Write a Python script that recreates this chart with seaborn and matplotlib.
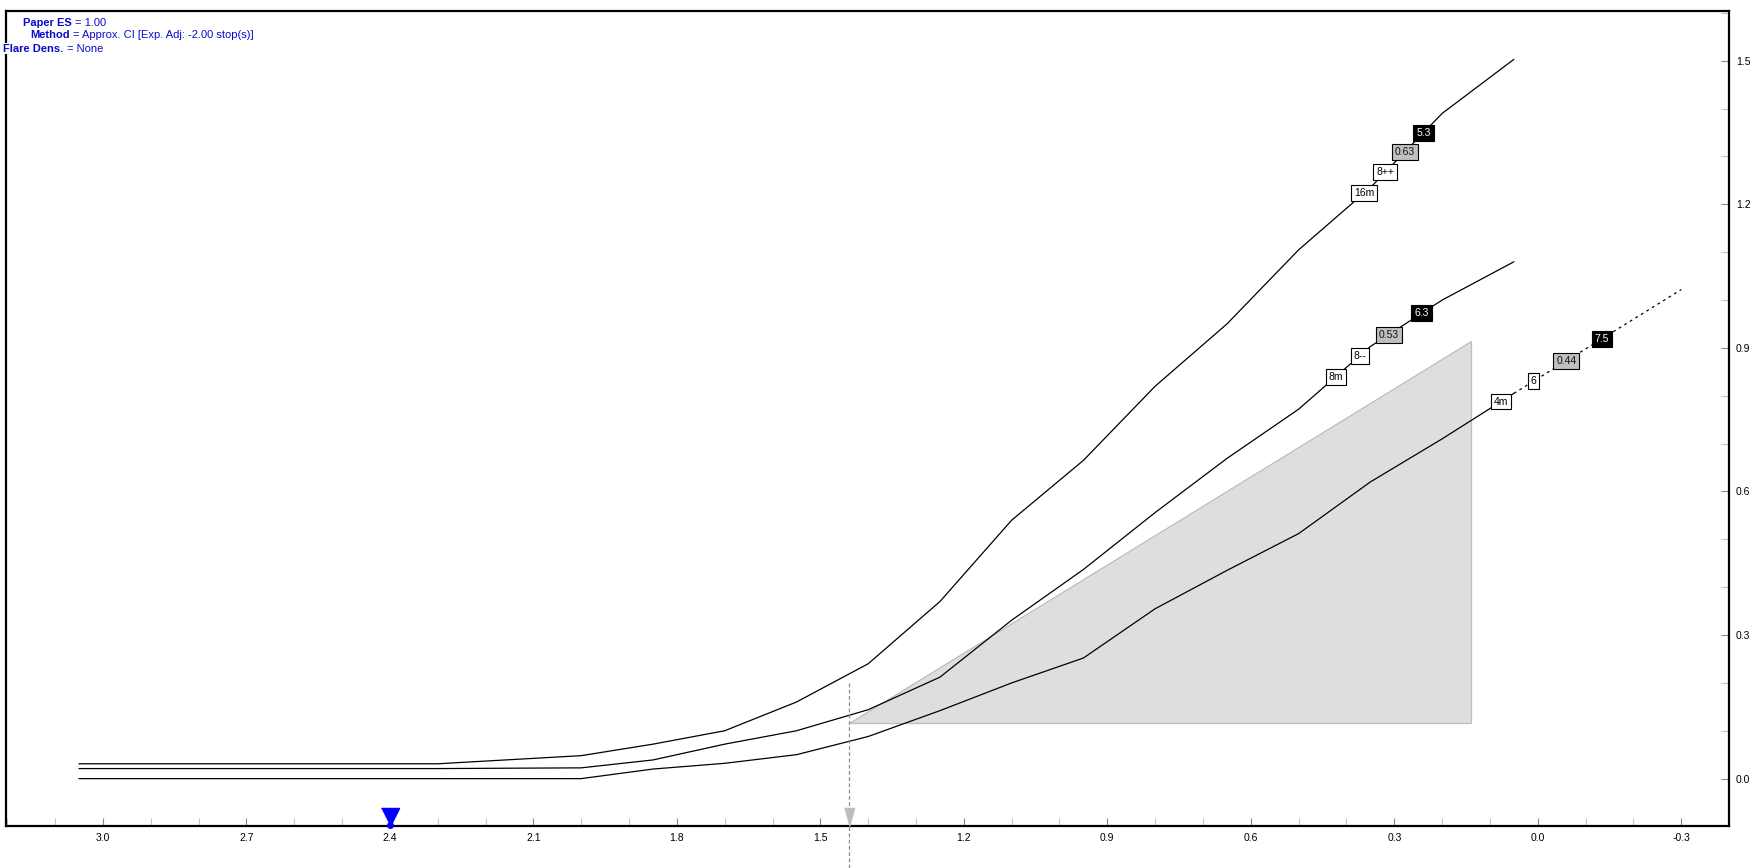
import numpy as np
import pandas as pd
import matplotlib
matplotlib.use("Agg")
import matplotlib.pyplot as plt
import seaborn as sns
from matplotlib.ticker import MultipleLocator, FormatStrFormatter

# ---------------- data ----------------
x_pts = [3.05, 2.3, 2.0, 1.85, 1.7, 1.55, 1.4, 1.25, 1.1, 0.95, 0.8, 0.65, 0.5, 0.35, 0.2, 0.05]
upper_y = [0.031, 0.031, 0.048, 0.072, 0.10, 0.16, 0.24, 0.37, 0.54, 0.665, 0.82, 0.95, 1.105, 1.235, 1.39, 1.503]
middle_y = [0.021, 0.021, 0.0225, 0.039, 0.072, 0.10, 0.144, 0.212, 0.331, 0.437, 0.556, 0.669, 0.772, 0.903, 1.0, 1.08]
lower_y = [0.0, 0.0, 0.0, 0.02, 0.032, 0.05, 0.088, 0.142, 0.20, 0.252, 0.355, 0.435, 0.512, 0.62, 0.71, 0.805]
lower_ext_x = [0.05, -0.3]
lower_ext_y = [0.805, 1.022]

upper_labels = ["16m", "8++", "0.63", "5.3"]
upper_label_x = [0.363, 0.319, 0.278, 0.239]
middle_labels = ["8m", "8--", "0.53", "6.3"]
middle_label_x = [0.4225, 0.372, 0.312, 0.243]
lower_labels = ["4m", "6", "0.44", "7.5"]
lower_label_x = [0.077, 0.0086, -0.0596, -0.1336]
label_styles = ["white", "white", "gray", "black"]

shade_x = [1.44, 0.14, 0.14]
shade_y = [0.116, 0.116, 0.914]

ref_x = 1.44
ref_top = 0.2
target_x = 2.4

info_keys = ["Paper ES", "Method", "Flare Dens."]
info_vals = ["= 1.00", "= Approx. CI [Exp. Adj: -2.00 stop(s)]", "= None"]

# ---------------- style ----------------
sns.set_style("white")
plt.rcParams["font.family"] = ["Liberation Sans", "DejaVu Sans"]

W, H = 1757, 868
fig = plt.figure(figsize=(W / 100, H / 100), dpi=100)
ax = fig.add_axes([6 / W, 1 - 826 / H, (1729 - 6) / W, (826 - 11) / H])

# shaded region
ax.fill(shade_x, shade_y, facecolor="#DEDEDE", edgecolor="#BDBDBD", lw=0.9, zorder=1)

# curves
for ys in (upper_y, middle_y, lower_y):
    sns.lineplot(x=x_pts, y=ys, sort=False, estimator=None, color="black",
                 lw=0.9, ax=ax, zorder=3)
sns.lineplot(x=lower_ext_x, y=lower_ext_y, sort=False, estimator=None, color="black",
             lw=0.9, linestyle=(0, (2.2, 3.0)), ax=ax, zorder=3)

# labels on curves
styles = {"white": ("white", "black"), "gray": ("#C0C0C0", "#111111"), "black": ("black", "white")}
lower_all_x = x_pts + lower_ext_x[1:]
lower_all_y = lower_y + lower_ext_y[1:]
for labels, lx, xs, ys in [
    (upper_labels, upper_label_x, x_pts, upper_y),
    (middle_labels, middle_label_x, x_pts, middle_y),
    (lower_labels, lower_label_x, lower_all_x, lower_all_y),
]:
    xs_a = np.array(xs)[::-1]
    ys_a = np.array(ys)[::-1]
    for s, x, st in zip(labels, lx, label_styles):
        y = np.interp(x, xs_a, ys_a)
        fc, tc = styles[st]
        ax.text(x, y, s, ha="center", va="center", fontsize=7.5, color=tc, zorder=6,
                bbox=dict(boxstyle="square,pad=0.28", fc=fc, ec="black", lw=0.8))

# reference vertical dashed line (extends below the axes)
ax.plot([ref_x, ref_x], [ref_top, -0.19], color="#8C8C8C", lw=0.9,
        linestyle=(0, (3, 2)), clip_on=False, zorder=4)
tri = [(-0.28, 0.5), (0.28, 0.5), (0.0, -0.5)]
ax.plot([ref_x], [-0.1 + 0.019], marker=tri, markersize=13, color="#BDBDBD",
        markeredgecolor="#BDBDBD", clip_on=False, zorder=7)

# blue target marker
tri2 = [(-0.5, 0.5), (0.5, 0.5), (0.0, -0.5)]
ax.plot([target_x], [-0.1 + 0.0195], marker=tri2, markersize=13, color="#0000FF",
        markeredgecolor="#0000FF", clip_on=False, zorder=7)
ax.plot([target_x], [-0.1 + 0.004], marker="o", markersize=4, color="#0000FF",
        clip_on=False, zorder=7)

# axes limits / ticks
ax.set_xlim(3.2025, -0.3997)
ax.set_ylim(-0.099, 1.604)
ax.set_xlabel("")
ax.set_ylabel("")
ax.xaxis.set_major_locator(MultipleLocator(0.3))
ax.xaxis.set_minor_locator(MultipleLocator(0.1))
ax.yaxis.set_major_locator(MultipleLocator(0.3))
ax.yaxis.set_minor_locator(MultipleLocator(0.1))
ax.xaxis.set_major_formatter(FormatStrFormatter("%.1f"))
ax.yaxis.set_major_formatter(FormatStrFormatter("%.1f"))
ax.yaxis.tick_right()
ax.tick_params(axis="both", which="major", direction="in", length=5.8, width=0.8,
               color="#888888", labelsize=7.5, labelcolor="black", pad=5)
ax.tick_params(axis="both", which="minor", direction="in", length=5.8, width=0.8,
               color="#C4C4C4")
ax.tick_params(axis="y", which="both", left=False, right=True, labelleft=False, labelright=True)
ax.tick_params(axis="x", which="both", bottom=True, top=False)
for sp in ax.spines.values():
    sp.set_visible(True)
    sp.set_color("black")
    sp.set_linewidth(1.6)

# info text top-left
blue = "#0A0ACD"
info_x = [22.7, 30.0, 3.0]
info_y = [22.5, 35.5, 48.5]
for k, v, px, py in zip(info_keys, info_vals, info_x, info_y):
    t = fig.text(px / W, 1 - py / H, k, fontsize=8, fontweight="bold", color=blue,
                 ha="left", va="center", zorder=10,
                 bbox=dict(boxstyle="square,pad=0.05", fc="white", ec="none"))
    fig.canvas.draw()
    ax.annotate(v, xy=(1, 0.5), xycoords=t, xytext=(2.5, 0), textcoords="offset points",
                fontsize=8, color=blue, ha="left", va="center", annotation_clip=False)

fig.savefig("out.png", dpi=100)
